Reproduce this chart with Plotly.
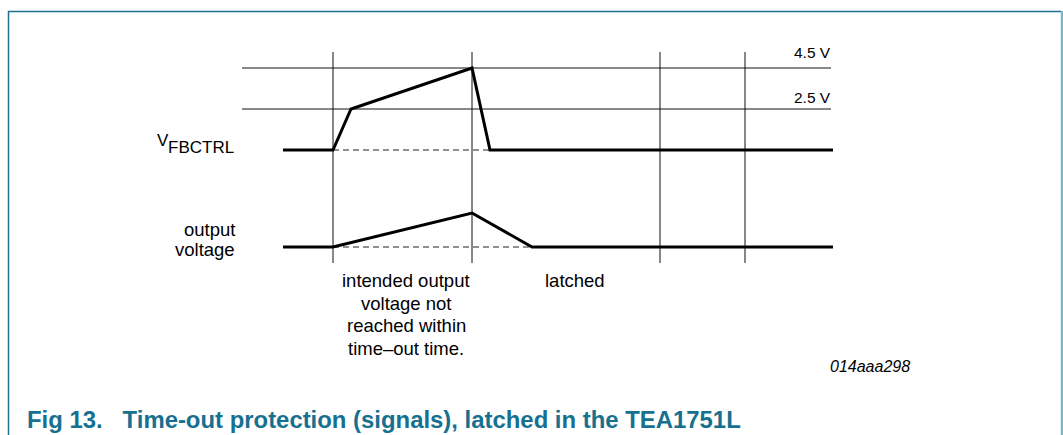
import plotly.graph_objects as go

W, H = 1063, 435

# ---- data (schematic timing diagram, time in arbitrary units) ----
vfb_t = [283, 333, 351, 472, 490, 833]          # V_FBCTRL breakpoints (time)
vfb_v = [0.5, 0.5, 2.5, 4.5, 0.5, 0.5]          # V_FBCTRL level (V)
vfb_ref_t = [333, 490]                           # dashed reference
vfb_ref_v = [0.5, 0.5]

out_t = [283, 333, 472, 532, 833]                # output voltage breakpoints
out_v = [0.0, 0.0, 1.0, 0.0, 0.0]                # output voltage (a.u.)
out_ref_t = [333, 532]
out_ref_v = [0.0, 0.0]

thresholds = [4.5, 2.5]                          # V
threshold_labels = ["4.5 V", "2.5 V"]
threshold_span = [242, 831]

markers_t = [333, 472, 660, 745]                 # event instants

# ---- helpers for pixel-based placement of text/frame ----
def py(px):
    return 1 - px / H

def pxx(px):
    return px / W

FONT = "Liberation Sans, Arial, sans-serif"
TEAL = "#17708f"

fig = go.Figure()

fig.add_trace(go.Scatter(x=vfb_ref_t, y=vfb_ref_v, mode="lines",
                         line=dict(color="#222", width=1, dash="6px,4px"),
                         yaxis="y", hoverinfo="skip"))
fig.add_trace(go.Scatter(x=vfb_t, y=vfb_v, mode="lines",
                         line=dict(color="black", width=3), yaxis="y",
                         hoverinfo="skip"))
fig.add_trace(go.Scatter(x=out_ref_t, y=out_ref_v, mode="lines",
                         line=dict(color="#222", width=1, dash="6px,4px"),
                         yaxis="y2", hoverinfo="skip"))
fig.add_trace(go.Scatter(x=out_t, y=out_v, mode="lines",
                         line=dict(color="black", width=3), yaxis="y2",
                         hoverinfo="skip"))

shapes = []
# threshold lines
for v in thresholds:
    shapes.append(dict(type="line", xref="x", yref="y",
                       x0=threshold_span[0], x1=threshold_span[1], y0=v, y1=v,
                       line=dict(color="#111", width=1), layer="below"))
# event vertical markers
for t in markers_t:
    shapes.append(dict(type="line", xref="x", yref="paper",
                       x0=t, x1=t, y0=py(52), y1=py(263),
                       line=dict(color="#111", width=1), layer="below"))
# frame
shapes.append(dict(type="line", xref="paper", yref="paper",
                   x0=pxx(8), x1=pxx(1061), y0=py(11.5), y1=py(11.5),
                   line=dict(color="#1f6f8f", width=1.5)))
shapes.append(dict(type="line", xref="paper", yref="paper",
                   x0=pxx(8.5), x1=pxx(8.5), y0=py(11), y1=py(436),
                   line=dict(color="#1f6f8f", width=1.5)))
shapes.append(dict(type="line", xref="paper", yref="paper",
                   x0=pxx(1062), x1=pxx(1062), y0=py(11), y1=py(436),
                   line=dict(color="#7ab8c8", width=2.5)))

ann = []
def txt(text, x, ypx, size, xanchor="left", color="black", italic=False,
        bold=False, xref="x"):
    t = text
    if bold:
        t = "<b>" + t + "</b>"
    if italic:
        t = "<i>" + t + "</i>"
    ann.append(dict(text=t, x=x, y=py(ypx), xref=xref, yref="paper",
                    xanchor=xanchor, yanchor="middle", showarrow=False,
                    borderpad=0,
                    font=dict(family=FONT, size=size, color=color)))

BODY = 18.5
# threshold labels
txt(threshold_labels[0], 832, 52.5, 15.5, "right")
txt(threshold_labels[1], 832, 97, 15.5, "right")
# signal labels
txt("V", 170, 140, 17, "right")
txt("FBCTRL", 235, 147, 17, "right")
txt("output", 236, 229.5, BODY, "right")
txt("voltage", 236, 249.5, BODY, "right")
# phase descriptions
desc = ["intended output", "voltage not", "reached within", "time\u2013out time."]
for i, line in enumerate(desc):
    txt(line, 406, 280.8 + i * 22.5, BODY, "center")
txt("latched", 544, 280.2, BODY, "left")
txt("014aaa298", 870, 366.5, 16, "center", italic=True)
# caption
txt("Fig 13.\u00a0\u00a0\u00a0Time-out protection (signals), latched in the TEA1751L",
    pxx(26), 419.5, 23.9, "left", color=TEAL, bold=True, xref="paper")

# y ranges mapped so data lands at the right heights
v_per_px = 1 / 20.5
yr1 = [2.5 - (H - 109) * v_per_px, 2.5 + 109 * v_per_px]
u_per_px = 1 / 34
yr2 = [-(H - 247) * u_per_px, 247 * u_per_px]

fig.update_layout(
    width=W, height=H,
    margin=dict(l=0, r=0, t=0, b=0),
    paper_bgcolor="white", plot_bgcolor="white",
    showlegend=False,
    xaxis=dict(range=[0, W], visible=False, fixedrange=True),
    yaxis=dict(range=yr1, visible=False, fixedrange=True),
    yaxis2=dict(range=yr2, visible=False, overlaying="y", fixedrange=True),
    shapes=shapes,
    annotations=ann,
)

fig.write_html("out.html", config={"displayModeBar": False},
               post_script="document.body.style.margin='0';"
                           "document.body.style.overflow='hidden';")
